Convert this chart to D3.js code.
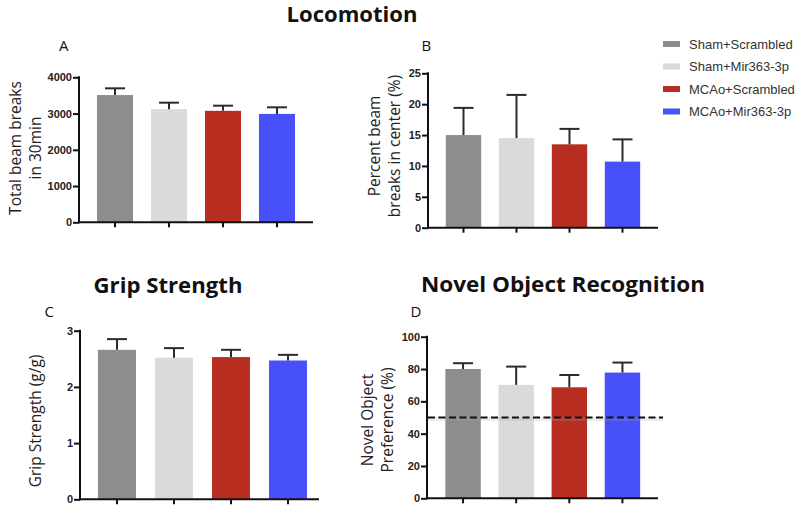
<!DOCTYPE html>
<html><head><meta charset="utf-8">
<script src="https://cdn.jsdelivr.net/npm/d3@7"></script>
<style>body{margin:0;background:#fff}svg{display:block}</style>
</head><body>
<svg id="c" width="800" height="510"></svg>
<script>
const groups = ["Sham+Scrambled","Sham+Mir363-3p","MCAo+Scrambled","MCAo+Mir363-3p"];
const colors = ["#8d8d8d","#dadada","#b72e20","#4850fa"];

const totalBreaks = [3510, 3120, 3075, 2990];
const totalBreaksErr = [186, 180, 142, 182];
const centerPct = [15.0, 14.5, 13.5, 10.7];
const centerPctErr = [4.4, 7.0, 2.5, 3.6];
const grip = [2.66, 2.52, 2.53, 2.47];
const gripErr = [0.19, 0.17, 0.13, 0.10];
const novelPref = [80.0, 70.2, 68.7, 77.8];
const novelPrefErr = [3.6, 11.3, 7.6, 6.2];

const ticksA = [0,1000,2000,3000,4000];
const ticksB = [0,5,10,15,20,25];
const ticksC = [0,1,2,3];
const ticksD = [0,20,40,60,80,100];
const chanceLevel = 50;

const svg = d3.select("#c");
const labFont = "'Open Sans', sans-serif";
const tickFont = "'Liberation Sans', Arial, sans-serif";

function panel(o){
  const g = svg.append("g");
  const x = d3.scaleBand().domain(groups).range(o.band).paddingInner(0.333).paddingOuter(0.1665);
  const y = d3.scaleLinear().domain(o.domain).range(o.yr);
  g.selectAll("rect.bar").data(o.vals).join("rect")
    .attr("x",(d,i)=>x(groups[i])).attr("width",x.bandwidth())
    .attr("y",d=>y(d)).attr("height",d=>y(o.domain[0])-y(d))
    .attr("fill",(d,i)=>colors[i]);
  const capW = 20;
  o.vals.forEach((v,i)=>{
    const cx = x(groups[i])+x.bandwidth()/2;
    g.append("line").attr("x1",cx).attr("x2",cx).attr("y1",y(v)).attr("y2",y(v+o.err[i]))
      .attr("stroke","#2b2b2b").attr("stroke-width",2);
    g.append("line").attr("x1",cx-capW/2).attr("x2",cx+capW/2).attr("y1",y(v+o.err[i])).attr("y2",y(v+o.err[i]))
      .attr("stroke","#2b2b2b").attr("stroke-width",2);
  });
  const ya = g.append("g").attr("transform",`translate(${o.ax0},0)`)
    .call(d3.axisLeft(y).tickValues(o.ticks).tickFormat(d3.format("d")).tickSize(6).tickPadding(1));
  ya.select(".domain").remove();
  ya.selectAll(".tick line").attr("stroke","#111").attr("stroke-width",2);
  ya.selectAll(".tick text").attr("font-family",tickFont).attr("font-weight","bold").attr("font-size",11).attr("fill","#222");
  g.append("line").attr("x1",o.ax0).attr("x2",o.ax0).attr("y1",o.yr[1]-1).attr("y2",o.yr[0]+1)
    .attr("stroke","#111").attr("stroke-width",2);
  g.append("line").attr("x1",o.ax0-1).attr("x2",o.ax1).attr("y1",o.yr[0]).attr("y2",o.yr[0])
    .attr("stroke","#111").attr("stroke-width",2);
  groups.forEach(gr=>{
    const cx = x(gr)+x.bandwidth()/2;
    g.append("line").attr("x1",cx).attr("x2",cx).attr("y1",o.yr[0]).attr("y2",o.yr[0]+5)
      .attr("stroke","#111").attr("stroke-width",2);
  });
  o.ylab.forEach((t,k)=>{
    g.append("text").attr("transform",`translate(${o.ylabX[k]},${o.ylabY}) rotate(-90)`)
      .attr("text-anchor","middle").attr("font-family",labFont).attr("font-size",15.5).attr("fill","#222").text(t);
  });
  g.append("text").attr("x",o.letterX).attr("y",o.letterY).attr("font-family",labFont)
    .attr("font-size",15).attr("fill","#111").text(o.letter);
  return {g,x,y};
}

panel({band:[88,304],ax0:79,ax1:313,domain:[0,4000],yr:[222.3,77.3],vals:totalBreaks,err:totalBreaksErr,ticks:ticksA,
  ylab:["Total beam breaks","in 30min"],ylabX:[20.5,40.5],ylabY:148,letter:"A",letterX:59,letterY:51});
panel({band:[437,649],ax0:428,ax1:658,domain:[0,25],yr:[227.7,73.3],vals:centerPct,err:centerPctErr,ticks:ticksB,
  ylab:["Percent beam","breaks in center (%)"],ylabX:[380,400],ylabY:146,letter:"B",letterX:421.5,letterY:51});
panel({band:[88.5,316.5],ax0:80,ax1:319,domain:[0,3],yr:[499.3,330.7],vals:grip,err:gripErr,ticks:ticksC,
  ylab:["Grip Strength (g/g)"],ylabX:[40.5],ylabY:421,letter:"C",letterX:44.5,letterY:317});
const pD = panel({band:[436.5,649],ax0:427,ax1:658,domain:[0,100],yr:[498.3,336.7],vals:novelPref,err:novelPrefErr,ticks:ticksD,
  ylab:["Novel Object","Preference (%)"],ylabX:[373,393],ylabY:420,letter:"D",letterX:410.5,letterY:317});

pD.g.append("line").attr("x1",428).attr("x2",663).attr("y1",pD.y(chanceLevel)+1.5).attr("y2",pD.y(chanceLevel)+1.5)
  .attr("stroke","#aaa").attr("stroke-width",4).attr("opacity",0.2);
pD.g.append("line").attr("x1",428).attr("x2",663).attr("y1",pD.y(chanceLevel)).attr("y2",pD.y(chanceLevel))
  .attr("stroke","#111").attr("stroke-width",2).attr("stroke-dasharray","7,3.5");

const titles = [["Locomotion",352,22,131],["Grip Strength",168,293,149],["Novel Object Recognition",563,292,284]];
titles.forEach(([t,cx,by,w])=>{
  svg.append("text").attr("x",cx).attr("y",by).attr("text-anchor","middle")
    .attr("font-family",labFont).attr("font-weight","bold").attr("font-size",21)
    .attr("textLength",w).attr("lengthAdjust","spacingAndGlyphs").attr("fill","#111").text(t);
});

const legY = [44, 66.5, 89, 111.5];
groups.forEach((gname,i)=>{
  svg.append("rect").attr("x",663).attr("y",legY[i]-3).attr("width",17).attr("height",6).attr("fill",colors[i]);
  svg.append("text").attr("x",689).attr("y",legY[i]+4.5).attr("font-family",tickFont)
    .attr("font-size",13).attr("fill","#333").text(gname);
});
</script>
</body></html>
